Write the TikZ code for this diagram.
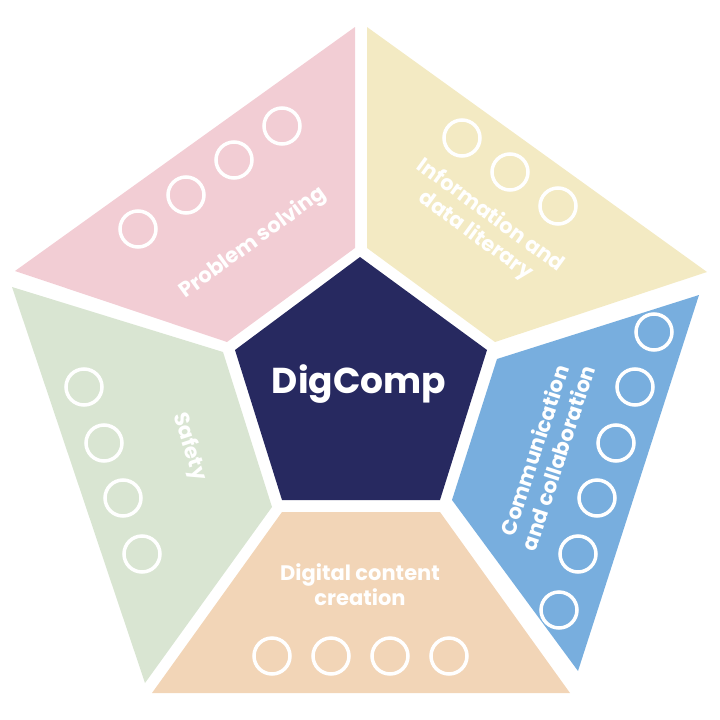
\documentclass[tikz,border=0pt]{standalone}
\usepackage{fontspec}
\setmainfont{Poppins}
\definecolor{pinkc}{HTML}{F2CDD4}
\definecolor{yellowc}{HTML}{F3EAC3}
\definecolor{bluec}{HTML}{78AEDE}
\definecolor{orangec}{HTML}{F2D5B7}
\definecolor{greenc}{HTML}{D9E5D2}
\definecolor{navyc}{HTML}{272960}
\tikzset{
  ring/.style={circle, draw=white, line width=3.5pt, minimum size=36pt, inner sep=0pt},
  lbl/.style={text=white, font=\bfseries\fontsize{21}{25}\selectfont, align=center, inner sep=0pt},
}
\begin{document}
\begin{tikzpicture}[x=1pt,y=-1pt]
\useasboundingbox (0,0) rectangle (720,720);
% segments
\fill[pinkc]   (15,271) -- (355,27) -- (355,248) -- (227,342) -- cycle;
\fill[yellowc] (367,27) -- (707,272) -- (495,342) -- (367,248) -- cycle;
\fill[bluec]   (699,295) -- (578,671) -- (452,500) -- (497,359) -- cycle;
\fill[orangec] (282,512) -- (440,512) -- (570,693) -- (152,693) -- cycle;
\fill[greenc]  (12,287) -- (223,352) -- (272,507) -- (145,683) -- cycle;
\fill[navyc]   (360,257) -- (487,350) -- (440,500) -- (282,500) -- (235,350) -- cycle;
% rings
\node[ring] (p1) at (138,229) {};
\node[ring] (p2) at (186,195) {};
\node[ring] (p3) at (234,160) {};
\node[ring] (p4) at (282,126) {};
\node[ring] (y1) at (462,138) {};
\node[ring] (y2) at (510,172) {};
\node[ring] (y3) at (558,206) {};
\node[ring] (b1) at (654,332) {};
\node[ring] (b2) at (635,387) {};
\node[ring] (b3) at (616,443) {};
\node[ring] (b4) at (597,498) {};
\node[ring] (b5) at (578,554) {};
\node[ring] (b6) at (559,610) {};
\node[ring] (o1) at (272,656) {};
\node[ring] (o2) at (331,656) {};
\node[ring] (o3) at (390,656) {};
\node[ring] (o4) at (449,656) {};
\node[ring] (g1) at (84,387) {};
\node[ring] (g2) at (104,443) {};
\node[ring] (g3) at (123,498) {};
\node[ring] (g4) at (142,554) {};
% labels
\node[text=white, font=\bfseries\fontsize{36}{40}\selectfont, inner sep=0pt] (dc) at (359,384) {DigComp};
\node[lbl, rotate=36] (ps) at (253,243) {Problem solving};
\node[lbl, rotate=-36] (idl) at (483,226) {Information and\\data literary};
\node[lbl, rotate=72] (cc) at (546,454) {Communication\\and collaboration};
\node[lbl] (dcc) at (360,585) {Digital content\\creation};
\node[lbl, rotate=-72] (sf) at (189,447) {Safety};
\end{tikzpicture}
\end{document}
